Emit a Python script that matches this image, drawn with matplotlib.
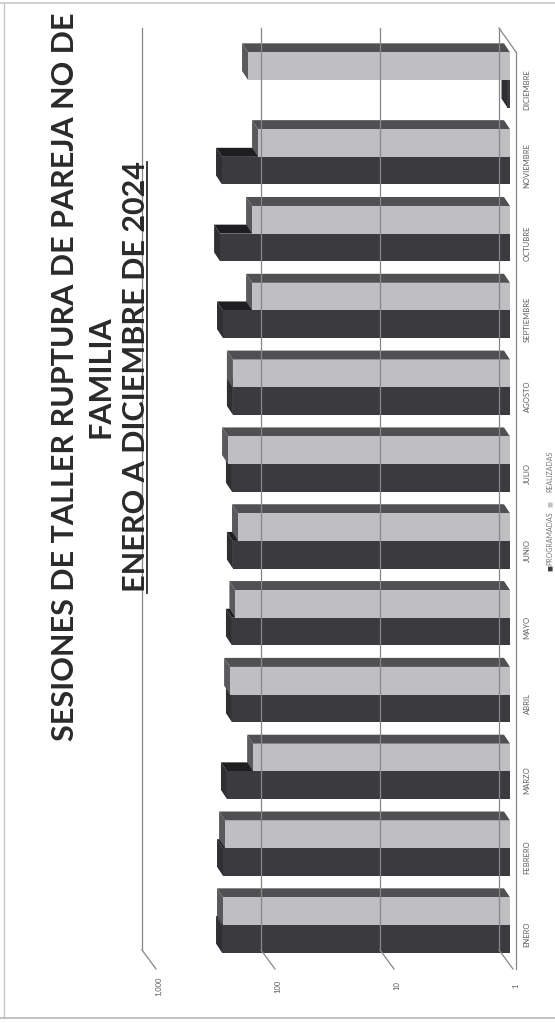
import matplotlib
matplotlib.use("Agg")
import matplotlib.pyplot as plt
from matplotlib.lines import Line2D
from matplotlib.patches import Polygon
from matplotlib.transforms import IdentityTransform, blended_transform_factory
import numpy as np

MESES = ["ENERO", "FEBRERO", "MARZO", "ABRIL", "MAYO", "JUNIO",
         "JULIO", "AGOSTO", "SEPTIEMBRE", "OCTUBRE", "NOVIEMBRE", "DICIEMBRE"]
PROGRAMADAS = [263, 258, 239, 217, 217, 213, 217, 213, 258, 273, 263, 1.05]
REALIZADAS = [258, 248, 144, 225, 203, 193, 234, 213, 147, 147, 131, 159]
TICKS = [1, 10, 100, 1000]
TICK_LABELS = ["1", "10", "100", "1,000"]
SERIES = ["PROGRAMADAS", "REALIZADAS"]
TITULO = ["SESIONES DE TALLER RUPTURA DE PAREJA NO DE", "FAMILIA",
          "ENERO A DICIEMBRE DE 2024"]

W, H, DPI = 555, 1023, 100
DARK, DARK_SIDE, DARK_CAP = "#3b3b3f", "#1e1e20", "#2f2f32"
LIGHT, LIGHT_SIDE, LIGHT_CAP = "#bfbfc1", "#505053", "#5a5a5d"
GRID, LABEL, INK = "#878787", "#5c5c5c", "#2a2a2a"
FONT = "Lato"
DEPTH = (-6, 9)  # px, direction of the 3d extrusion on the page

fig = plt.figure(figsize=(W / DPI, H / DPI), dpi=DPI)
fig.patch.set_facecolor("white")


def fx(x):
    return x / W


def fy(y):
    return 1 - y / H


def line(xs, ys, **kw):
    kw.setdefault("color", GRID)
    kw.setdefault("lw", 0.9)
    fig.add_artist(Line2D([fx(x) for x in xs], [fy(y) for y in ys], **kw))


# the chart is printed turned a quarter turn: months run bottom -> top,
# the log value axis runs right -> left
X_ONE, X_THOUSAND = 510, 153
Y_FIRST, Y_LAST = 925, 80
step = (Y_FIRST - Y_LAST) / (len(MESES) - 1)
y_bot, y_top = Y_FIRST + step / 2, Y_LAST - step / 2
ax = fig.add_axes([fx(X_THOUSAND), fy(y_bot), (X_ONE - X_THOUSAND) / W, (y_bot - y_top) / H])
ax.set_xscale("log")
ax.set_xlim(1000, 1)
ax.set_ylim(-0.5, len(MESES) - 0.5)
ax.axis("off")


def px(v):
    """image x (pixels from the left) of value v on the front plane"""
    return ax.transData.transform((v, 0))[0]


# back wall gridlines, floor and side-wall ticks
BACK = 11
for v, lab in zip(TICKS, TICK_LABELS):
    xb = px(v) - BACK
    line([xb, xb], [28, 950])
    line([xb, xb + 14], [950, 969])
    fig.text(fx(xb + 17), fy(986), lab, rotation=90, ha="center", va="center",
             fontsize=5.5, color=LABEL, family=FONT)
line([px(1) - BACK, px(1) + 6], [28, 52])
line([px(1) + 6, px(1) + 6], [52, 969])


def extrude(bars, side, cap, z):
    """top strip and end cap drawn behind each front face of a 3d bar"""
    dx, dy = DEPTH
    renderer = fig.canvas.get_renderer()
    for b in bars:
        e = b.get_window_extent(renderer)
        xe, x0, yb, yt = e.x0, e.x1, e.y0, e.y1
        strip = [(xe, yt), (xe + dx, yt + dy), (x0 + dx, yt + dy), (x0, yt)]
        end = [(xe, yb), (xe + dx, yb + dy), (xe + dx, yt + dy), (xe, yt)]
        for pts, col in ((strip, side), (end, cap)):
            ax.add_patch(Polygon(pts, closed=True, transform=IdentityTransform(),
                                 facecolor=col, lw=0, zorder=z))


idx = np.arange(len(MESES))
h = 0.36
prog = np.array(PROGRAMADAS)
real = np.array(REALIZADAS)
dark = ax.barh(idx - h / 2, prog - 1, left=1, height=h, color=DARK, lw=0, zorder=3)
light = ax.barh(idx + h / 2, real - 1, left=1, height=h, color=LIGHT, lw=0, zorder=5)
extrude(dark, DARK_SIDE, DARK_CAP, 2)
extrude(light, LIGHT_SIDE, LIGHT_CAP, 4)

# month labels
lab_tr = blended_transform_factory(fig.transFigure, ax.transData)
for i, m in enumerate(MESES):
    ax.text(fx(527), i - 0.12, m, transform=lab_tr, rotation=90, ha="center", va="center",
            fontsize=5.5, color=LABEL, family=FONT, clip_on=False)

# legend (turned with the chart)
for name, col, ym, yt in zip(SERIES, [DARK, LIGHT], [568, 504], [538, 471]):
    fig.text(fx(550), fy(ym), "■", rotation=90, ha="center", va="center",
             fontsize=4.5, color=col)
    fig.text(fx(550), fy(yt), name, rotation=90, ha="center", va="center",
             fontsize=5, color="#7a7a7a", family=FONT)

# title, sized so the first line spans its printed length
renderer = fig.canvas.get_renderer()
probe = fig.text(0, 0, TITULO[0], fontsize=20, fontweight="bold", family=FONT)
size = 20 * 728 / probe.get_window_extent(renderer).width
probe.remove()
texts = []
for t, xb in zip(TITULO, [74, 109, 145]):
    texts.append(fig.text(fx(xb), fy(377), t, rotation=90, rotation_mode="anchor",
                          ha="center", va="baseline", fontsize=size, fontweight="bold",
                          color=INK, family=FONT))
bb = texts[2].get_window_extent(renderer)
line([147, 147], [H - bb.y1, H - bb.y0], color=INK, lw=1.3)

# scan frame
line([0, W], [3, 3], color="#c8c8c8", lw=1.2)
line([4, 4], [3, 1018], color="#c8c8c8", lw=1.0)
line([0, W], [1018, 1018], color="#b8b8b8", lw=1.2)

fig.savefig("out.png", dpi=DPI, facecolor="white")
